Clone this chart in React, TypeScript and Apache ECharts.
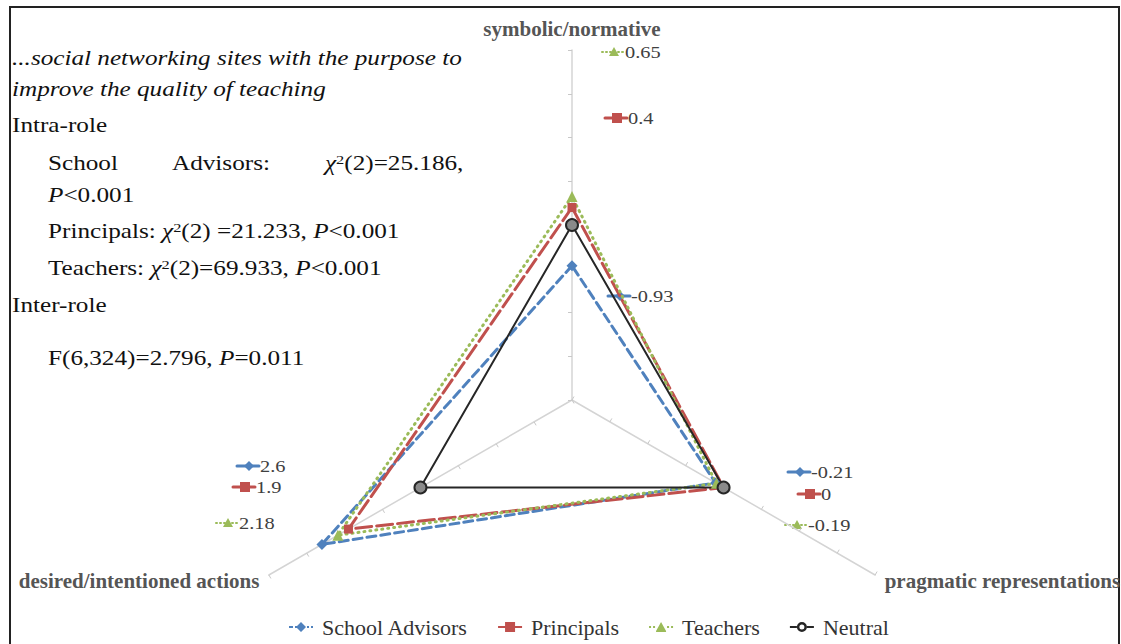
import React, { useEffect, useRef } from 'react';
import * as echarts from 'echarts';

// ---------- data ----------
const indicatorNames = ['symbolic/normative', 'desired/intentioned actions', 'pragmatic representations'];
const axisMin = -4;
const axisMax = 4;
const seriesNames = ['School Advisors', 'Principals', 'Teachers', 'Neutral'];
const schoolAdvisors = [-0.93, 2.6, -0.21];
const principals = [0.4, 1.9, 0];
const teachers = [0.65, 2.18, -0.19];
const neutral = [0, 0, 0];

// ---------- styles / layout ----------
const SERIF = "'Liberation Serif', 'Times New Roman', serif";
const colors = ['#4F81BD', '#C0504D', '#9BBB59', '#262626'];
const dashes: any[] = [[9, 5], [16, 5], [1, 5], 'solid'];
const widths = [3, 3, 3, 2];
const symbols = ['diamond', 'rect', 'triangle', 'circle'];
const symbolSizes = [11, 9, 11, 12];

// label key positions (marker centre) per series (first three) per indicator
const labelKeyPos: number[][][] = [
  [[620, 296], [249, 466], [800, 472]],
  [[617, 118], [245, 487], [810, 494]],
  [[614, 52], [228, 523], [797, 525]],
];

const TEXT_SCALE = 1.26;

function keyShape(i: number, cx: number, cy: number): any[] {
  const col = colors[i];
  const els: any[] = [];
  els.push({
    type: 'line',
    shape: { x1: cx - 12, y1: cy, x2: cx + 10, y2: cy },
    style: { stroke: col, lineWidth: i === 2 ? 2 : 3, lineDash: i === 2 ? [1, 3] : null, lineCap: 'round' },
  });
  if (i === 0) {
    els.push({ type: 'polygon', shape: { points: [[cx, cy - 5], [cx + 5, cy], [cx, cy + 5], [cx - 5, cy]] }, style: { fill: col } });
  } else if (i === 1) {
    els.push({ type: 'rect', shape: { x: cx - 5, y: cy - 5, width: 10, height: 10 }, style: { fill: col } });
  } else {
    els.push({ type: 'polygon', shape: { points: [[cx, cy - 5], [cx + 5, cy + 4], [cx - 5, cy + 4]] }, style: { fill: col } });
  }
  return els;
}

const seriesValues = [schoolAdvisors, principals, teachers, neutral];

const labelRich = {
  v: { fontFamily: SERIF, fontSize: 17, fontStyle: 'normal', fontWeight: 'normal', fill: '#404040' },
};

function buildLabels(): any[] {
  const out: any[] = [];
  for (let s = 0; s < 3; s++) {
    for (let k = 0; k < indicatorNames.length; k++) {
      const [cx, cy] = labelKeyPos[s][k];
      out.push(...keyShape(s, cx, cy));
      out.push({
        type: 'text',
        x: cx + 11,
        y: cy,
        scaleX: 1.2,
        style: {
          text: `{v|${String(seriesValues[s][k])}}`,
          fontFamily: SERIF,
          fontSize: 17,
          fill: '#404040',
          align: 'left',
          verticalAlign: 'middle',
          rich: labelRich,
        },
      });
    }
  }
  return out;
}

const richStyles = {
  n: { fontFamily: SERIF, fontSize: 20, fontStyle: 'normal', fontWeight: 'normal', fill: '#111' },
  t: { fontFamily: SERIF, fontSize: 20, fontStyle: 'italic', fontWeight: 'normal', fill: '#111' },
  i: { fontFamily: SERIF, fontSize: 20, fontStyle: 'italic', fontWeight: 'normal', fill: '#111' },
  s: { fontFamily: SERIF, fontSize: 13, fontStyle: 'normal', fontWeight: 'normal', fill: '#111', verticalAlign: 'top' },
};

function blockText(x: number, y: number, text: string, italic = false): any {
  return {
    type: 'text',
    x,
    y,
    scaleX: TEXT_SCALE,
    style: {
      text,
      fontFamily: SERIF,
      fontSize: 20,
      fontStyle: italic ? 'italic' : 'normal',
      fontWeight: 'normal',
      fill: '#111',
      align: 'left',
      verticalAlign: 'middle',
      rich: richStyles,
    },
  };
}

const textBlock = [
  blockText(12, 58, '{t|...social networking sites with the purpose to}', true),
  blockText(12, 89, '{t|improve the quality of teaching}', true),
  blockText(12, 125, '{n|Intra-role}'),
  blockText(48, 163, '{n|School}'),
  blockText(172, 163, '{n|Advisors:}'),
  blockText(325, 163, '{i|χ}{s|2}{n|(2)=25.186,}'),
  blockText(48, 195, '{i|P}{n|<0.001}'),
  blockText(48, 231, '{n|Principals: }{i|χ}{s|2}{n|(2) =21.233, }{i|P}{n|<0.001}'),
  blockText(48, 268, '{n|Teachers: }{i|χ}{s|2}{n|(2)=69.933, }{i|P}{n|<0.001}'),
  blockText(12, 305, '{n|Inter-role}'),
  blockText(48, 358, '{n|F(6,324)=2.796, }{i|P}{n|=0.011}'),
];

const legendIcons = [
  'path://M0,4h4v2H0zM6,4h2v2H6zM12,0l5,5l-5,5l-5,-5zM18,4h2v2h-2zM22,4h2v2h-2z',
  'path://M0,4h24v2H0zM7,0h10v10H7z',
  'path://M0,4h2v2H0zM4,4h2v2H4zM12,0L17,9H7zM18,4h2v2h-2zM22,4h2v2h-2zM7,9h10v1H7z',
  'path://M0,4h7v2H0zM17,4h7v2h-7zM12,0a5,5 0 1,1 0,10a5,5 0 1,1 0,-10zM12,2.5a2.5,2.5 0 1,0 0,5a2.5,2.5 0 1,0 0,-5z',
];

export default function App() {
  const ref = useRef<HTMLDivElement>(null);
  useEffect(() => {
    if (!ref.current) return;
    const chart = echarts.init(ref.current, null, { renderer: 'svg' });
    const option: any = {
      animation: false,
      backgroundColor: '#ffffff',
      color: colors,
      textStyle: { fontFamily: SERIF },
      legend: {
        left: 284,
        top: 611,
        itemWidth: 24,
        itemHeight: 10,
        itemGap: 30,
        formatter: '{l|{name}}',
        textStyle: {
          fontFamily: SERIF,
          fontSize: 22,
          color: '#333',
          rich: { l: { fontFamily: SERIF, fontSize: 22, fontStyle: 'normal', fontWeight: 'normal', color: '#333', padding: [0, 0, 0, 4] } },
        },
        data: seriesNames.map((n, i) => ({ name: n, icon: legendIcons[i], itemStyle: { color: colors[i], borderWidth: 0 } })),
      },
      radar: {
        center: [572, 400],
        radius: 350,
        startAngle: 90,
        shape: 'polygon',
        splitNumber: 8,
        indicator: indicatorNames.map((n) => ({ name: n, min: axisMin, max: axisMax })),
        axisName: { color: '#555', fontFamily: SERIF, fontSize: 21, fontWeight: 'bold' },
        nameGap: 11,
        axisLine: { lineStyle: { color: '#d4d4d4', width: 1.5 } },
        axisTick: { show: true, length: 4, lineStyle: { color: '#c8c8c8' } },
        axisLabel: { show: false },
        splitLine: { show: false },
        splitArea: { show: false },
      },
      series: [
        {
          type: 'radar',
          data: seriesNames.map((n, i) => ({
            name: n,
            value: seriesValues[i],
            symbol: symbols[i],
            symbolSize: symbolSizes[i],
            lineStyle: { color: colors[i], width: widths[i], type: dashes[i], cap: 'round' },
            itemStyle: i === 3
              ? { color: '#8a8a8a', borderColor: '#262626', borderWidth: 2 }
              : { color: colors[i], borderWidth: 0 },
          })),
        },
      ],
      graphic: [
        {
          type: 'rect',
          shape: { x: 10, y: 7, width: 1109, height: 660 },
          style: { fill: 'none', stroke: '#222', lineWidth: 2 },
          silent: true,
        },
        ...textBlock,
        ...buildLabels(),
      ],
    };
    chart.setOption(option);
    return () => chart.dispose();
  }, []);
  return (
    <div
      ref={ref}
      style={{ position: 'fixed', left: 0, top: 0, width: 1121, height: 644, background: '#fff' }}
    />
  );
}
